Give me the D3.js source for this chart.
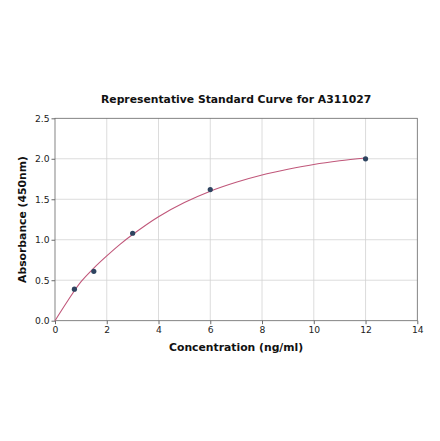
<!DOCTYPE html>
<html>
<head>
<meta charset="utf-8">
<script src="https://cdn.jsdelivr.net/npm/d3@7"></script>
<style>
  body { margin: 0; background: #fff; }
  text { font-family: "DejaVu Sans", sans-serif; }
</style>
</head>
<body>
<svg id="chart"></svg>
<script>
// standard points
var conc = [0.75, 1.5, 3, 6, 12];
var absorb = [0.39, 0.61, 1.08, 1.62, 2.0];
// fitted curve
var curveX = [0, 0.5, 1, 1.5, 2, 2.5, 3, 4, 5, 6, 7, 8, 9, 10, 11, 12];
var curveY = [0, 0.25, 0.48, 0.65, 0.80, 0.94, 1.065, 1.285, 1.46, 1.60, 1.71, 1.80, 1.87, 1.93, 1.975, 2.01];
var xTicks = [0, 2, 4, 6, 8, 10, 12, 14];
var yTicks = [0.0, 0.5, 1.0, 1.5, 2.0, 2.5];

var svgWidth = 440;
var svgHeight = 441;
var plotLeft = 55, plotRight = 417.3, plotTop = 118.3, plotBottom = 320.7;

var svg = d3.select("#chart")
   .attr("width", svgWidth)
   .attr("height", svgHeight);

var x = d3.scaleLinear().domain([0, 14]).range([plotLeft, plotRight]);
var y = d3.scaleLinear().domain([0, 2.5]).range([plotBottom, plotTop]);

// grid
svg.append("g").selectAll("line")
   .data(xTicks.slice(1, -1))
   .enter().append("line")
   .attr("x1", d => x(d)).attr("x2", d => x(d))
   .attr("y1", plotTop).attr("y2", plotBottom)
   .attr("stroke", "#d3d3d3").attr("stroke-width", 0.8);
svg.append("g").selectAll("line")
   .data(yTicks.slice(1, -1))
   .enter().append("line")
   .attr("y1", d => y(d)).attr("y2", d => y(d))
   .attr("x1", plotLeft).attr("x2", plotRight)
   .attr("stroke", "#d3d3d3").attr("stroke-width", 0.8);

// axes
var xAxis = svg.append("g")
   .attr("transform", "translate(0," + plotBottom + ")")
   .call(d3.axisBottom(x).tickValues(xTicks).tickFormat(d3.format("d")).tickSize(3.5).tickPadding(2));
var yAxis = svg.append("g")
   .attr("transform", "translate(" + plotLeft + ",0)")
   .call(d3.axisLeft(y).tickValues(yTicks).tickFormat(d3.format(".1f")).tickSize(3.5).tickPadding(2));
[xAxis, yAxis].forEach(function (g) {
  g.select(".domain").remove();
  g.selectAll(".tick line").attr("stroke", "#444").attr("stroke-width", 0.8);
  g.selectAll(".tick text").attr("fill", "#222").style("font-size", "9.2px")
   .style("font-family", "DejaVu Sans, sans-serif");
});

// frame
svg.append("rect")
   .attr("x", plotLeft).attr("y", plotTop)
   .attr("width", plotRight - plotLeft).attr("height", plotBottom - plotTop)
   .attr("fill", "none").attr("stroke", "#666").attr("stroke-width", 0.8);

// curve
var line = d3.line()
   .x(function (d, i) { return x(curveX[i]); })
   .y(function (d) { return y(d); })
   .curve(d3.curveCatmullRom);
svg.append("path")
   .attr("d", line(curveY))
   .attr("fill", "none")
   .attr("stroke", "#c0577a")
   .attr("stroke-width", 1.1);

// points
svg.selectAll("circle")
   .data(absorb)
   .enter().append("circle")
   .attr("cx", function (d, i) { return x(conc[i]); })
   .attr("cy", function (d) { return y(d); })
   .attr("r", 2.6)
   .attr("fill", "#2e4460");

// title and labels
svg.append("text")
   .attr("x", (plotLeft + plotRight) / 2).attr("y", 103)
   .attr("text-anchor", "middle")
   .style("font-size", "10.8px").style("font-weight", "bold")
   .attr("fill", "#111")
   .text("Representative Standard Curve for A311027");
svg.append("text")
   .attr("x", (plotLeft + plotRight) / 2).attr("y", 350.5)
   .attr("text-anchor", "middle")
   .style("font-size", "10.8px").style("font-weight", "bold")
   .attr("fill", "#111")
   .text("Concentration (ng/ml)");
svg.append("text")
   .attr("transform", "translate(26," + ((plotTop + plotBottom) / 2) + ") rotate(-90)")
   .attr("text-anchor", "middle")
   .style("font-size", "10.8px").style("font-weight", "bold")
   .attr("fill", "#111")
   .text("Absorbance (450nm)");
</script>
</body>
</html>
